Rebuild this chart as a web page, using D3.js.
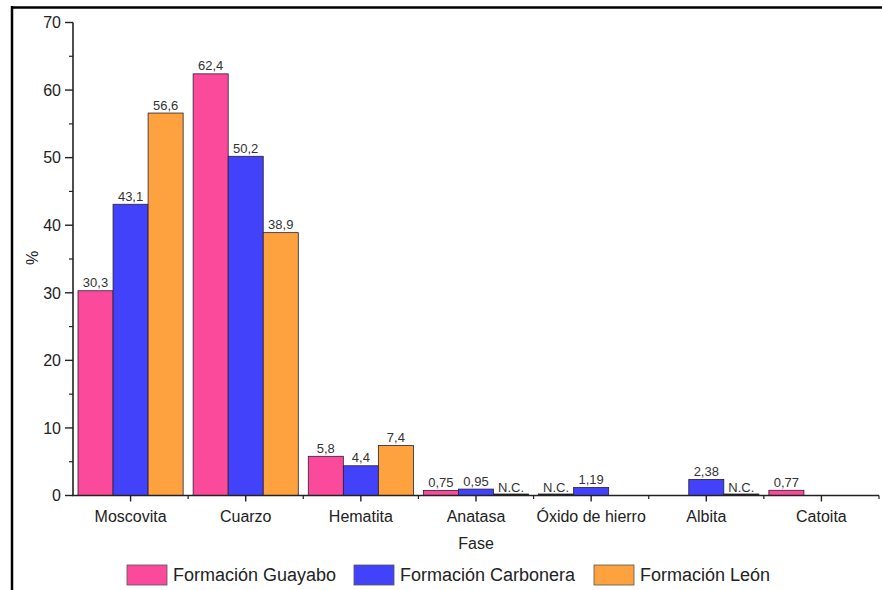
<!DOCTYPE html>
<html><head><meta charset="utf-8">
<script src="https://cdn.jsdelivr.net/npm/d3@7"></script>
<style>
html,body{margin:0;padding:0;background:#fff;}
text{font-family:"Liberation Sans",Arial,sans-serif;}
</style></head>
<body>
<svg id="chart" width="882" height="590"></svg>
<script>
const categories = ["Moscovita", "Cuarzo", "Hematita", "Anatasa", "Óxido de hierro", "Albita", "Catoita"];
const seriesNames = ["Formación Guayabo", "Formación Carbonera", "Formación León"];
const guayabo   = [30.3, 62.4, 5.8, 0.75, "N.C.", null, 0.77];
const carbonera = [43.1, 50.2, 4.4, 0.95, 1.19, 2.38, null];
const leon      = [56.6, 38.9, 7.4, "N.C.", null, "N.C.", null];
const yTicks = [0, 10, 20, 30, 40, 50, 60, 70];
const colors = ["#fb4a9c", "#4242fb", "#fea23f"];

const series = [guayabo, carbonera, leon];
const svg = d3.select("#chart");

// frame
svg.append("line").attr("x1", 12).attr("x2", 882).attr("y1", 7.5).attr("y2", 7.5).attr("stroke", "#000").attr("stroke-width", 2.5);
svg.append("line").attr("x1", 12).attr("x2", 12).attr("y1", 6).attr("y2", 590).attr("stroke", "#000").attr("stroke-width", 2.5);

const x0 = d3.scaleBand().domain(categories).range([73, 879]).padding(0);
const x1 = d3.scaleBand().domain(seriesNames).range([5, x0.bandwidth() - 5]).padding(0);
const y = d3.scaleLinear().domain([0, 70]).range([495.5, 22.5]);

const g = svg.append("g");
const rows = [];
categories.forEach((c, i) => {
  series.forEach((s, j) => {
    const v = s[i];
    if (v === null) return;
    rows.push({cat: c, ser: seriesNames[j], j, val: typeof v === "number" ? v : 0,
      label: typeof v === "number" ? String(v).replace(".", ",") : v});
  });
});

g.selectAll("rect.bar").data(rows).enter().append("rect")
  .attr("class", "bar")
  .attr("x", d => x0(d.cat) + x1(d.ser))
  .attr("width", x1.bandwidth())
  .attr("y", d => y(d.val) - (d.val === 0 ? 1.5 : 0))
  .attr("height", d => d.val === 0 ? 1.5 : y(0) - y(d.val))
  .attr("fill", d => d.val === 0 ? "#222" : colors[d.j])
  .attr("stroke", "#2a2030")
  .attr("stroke-width", 0.8);

g.selectAll("text.lbl").data(rows).enter().append("text")
  .attr("class", "lbl")
  .attr("x", d => x0(d.cat) + x1(d.ser) + x1.bandwidth() / 2)
  .attr("y", d => y(d.val) - 3.5)
  .attr("text-anchor", "middle")
  .attr("font-size", 13)
  .attr("fill", "#333")
  .text(d => d.label);

// Y axis
const yAxis = svg.append("g").attr("transform", "translate(73,0)");
yAxis.append("line").attr("x1", 0).attr("x2", 0).attr("y1", y(70)).attr("y2", y(0)).attr("stroke", "#222").attr("stroke-width", 1.6);
yAxis.selectAll("line.maj").data(yTicks).enter().append("line")
  .attr("x1", -8).attr("x2", 0).attr("y1", d => y(d)).attr("y2", d => y(d)).attr("stroke", "#222").attr("stroke-width", 1.4);
yAxis.selectAll("line.min").data(yTicks.slice(0, -1).map(d => d + 5)).enter().append("line")
  .attr("x1", -4).attr("x2", 0).attr("y1", d => y(d)).attr("y2", d => y(d)).attr("stroke", "#222").attr("stroke-width", 1.2);
yAxis.selectAll("text").data(yTicks).enter().append("text")
  .attr("x", -12).attr("y", d => y(d)).attr("dy", "0.36em")
  .attr("text-anchor", "end").attr("font-size", 16).attr("fill", "#222")
  .text(d => d);

// X axis
const xAxis = svg.append("g").attr("transform", `translate(0,${y(0)})`);
xAxis.append("line").attr("x1", 72).attr("x2", 879).attr("y1", 0).attr("y2", 0).attr("stroke", "#222").attr("stroke-width", 1.6);
xAxis.selectAll("line.maj").data(categories).enter().append("line")
  .attr("x1", d => x0(d) + x0.bandwidth() / 2).attr("x2", d => x0(d) + x0.bandwidth() / 2)
  .attr("y1", 0).attr("y2", 6).attr("stroke", "#222").attr("stroke-width", 1.4);
xAxis.selectAll("line.min").data(categories.slice(1).concat(["__end"])).enter().append("line")
  .attr("x1", d => d === "__end" ? x0.range()[1] : x0(d)).attr("x2", d => d === "__end" ? x0.range()[1] : x0(d))
  .attr("y1", 0).attr("y2", 3.5).attr("stroke", "#222").attr("stroke-width", 1.2);
xAxis.selectAll("text").data(categories).enter().append("text")
  .attr("x", d => x0(d) + x0.bandwidth() / 2).attr("y", 26)
  .attr("text-anchor", "middle").attr("font-size", 16).attr("fill", "#222")
  .text(d => d);

// axis titles
svg.append("text").attr("x", 476).attr("y", 549).attr("text-anchor", "middle").attr("font-size", 16).attr("fill", "#222").text("Fase");
svg.append("text").attr("transform", "translate(38,258) rotate(-90)").attr("text-anchor", "middle").attr("font-size", 16).attr("fill", "#222").text("%");

// legend
const legX = [127, 354, 594];
const leg = svg.append("g");
seriesNames.forEach((s, j) => {
  leg.append("rect").attr("x", legX[j]).attr("y", 565).attr("width", 40).attr("height", 20)
    .attr("fill", colors[j]).attr("stroke", "#555").attr("stroke-width", 0.8);
  leg.append("text").attr("x", legX[j] + 46).attr("y", 575).attr("dy", "0.36em")
    .attr("font-size", 18).attr("fill", "#222").text(s);
});
</script>
</body></html>
